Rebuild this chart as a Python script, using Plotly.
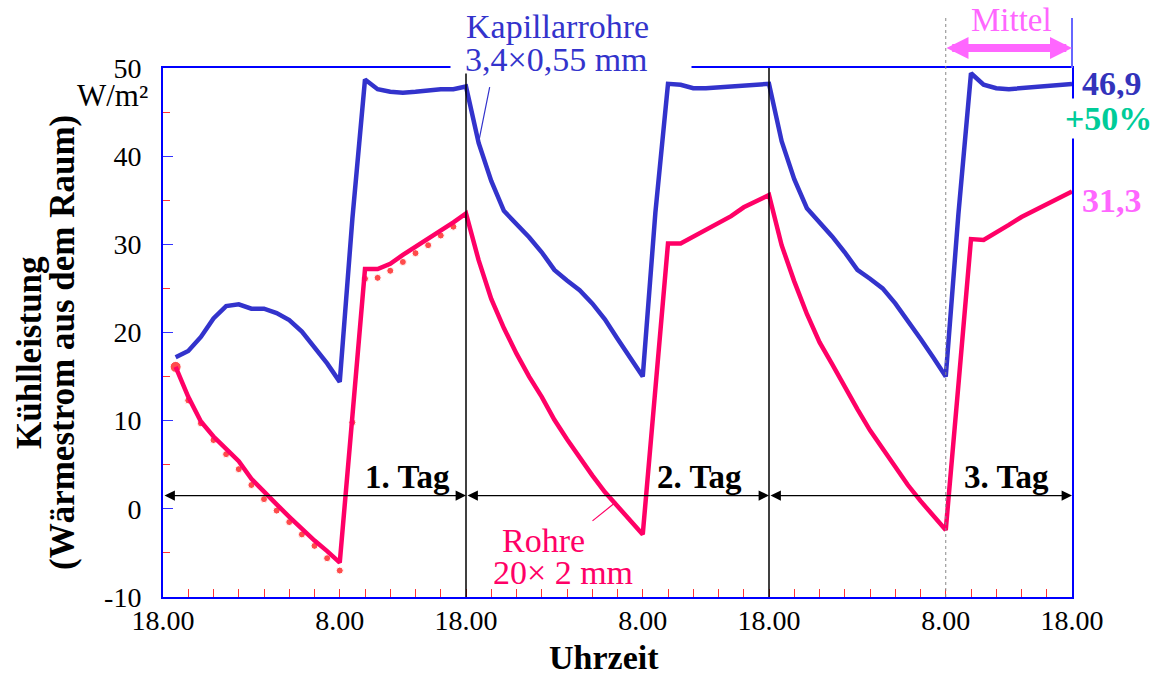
import plotly.graph_objects as go

# ---------------- data ----------------
hours = list(range(1, 73))  # 19:00 on day 1 ... 18:00 on day 3 (hours after 18:00)

kapillar = [17.2, 17.9, 19.5, 21.6, 23.0, 23.2, 22.7, 22.7, 22.2, 21.4, 20.1, 18.3,
            16.5, 14.4, 32.9, 48.7, 47.6, 47.3, 47.2, 47.3, 47.5, 47.6, 47.6, 47.9,
            41.5, 37.2, 33.8, 32.3, 30.8, 29.1, 27.1, 25.9, 24.8, 23.3, 21.5, 19.3,
            17.2, 15.0, 33.6, 48.2, 48.1, 47.7, 47.7, 47.8, 47.8, 47.9, 48.1, 48.2,
            41.7, 37.4, 34.1, 32.5, 30.9, 29.1, 27.1, 26.1, 25.0, 23.3, 21.4, 19.3,
            17.2, 15.0, 33.4, 49.4, 48.1, 47.7, 47.6, 47.7, 47.8, 47.9, 48.1, 48.2]

rohre = [16.1, 12.7, 9.9, 8.2, 6.8, 5.4, 3.4, 1.9, 0.5, -0.9, -2.3, -3.6,
         -4.8, -6.1, 10.5, 27.2, 27.2, 27.8, 28.8, 29.7, 30.7, 31.6, 32.5, 33.5,
         28.2, 23.8, 20.5, 17.6, 15.0, 12.7, 10.1, 7.9, 5.8, 3.8, 1.9, 0.3,
         -1.3, -2.9, 13.6, 30.1, 30.1, 30.9, 31.7, 32.5, 33.2, 34.2, 34.9, 35.6,
         29.9, 25.8, 22.1, 18.9, 16.4, 13.8, 11.3, 8.9, 6.8, 4.6, 2.7, 0.9,
         -0.8, -2.4, 14.0, 30.6, 30.5, 31.3, 32.2, 33.1, 33.8, 34.5, 35.3, 36.0]

hours_dots = list(range(1, 24))
rohre_dots = [16.1, 12.3, 9.7, 7.8, 6.2, 4.5, 2.7, 1.1, -0.2, -1.5, -2.9, -4.2,
              -5.6, -7.0, 9.8, 26.1, 26.2, 27.0, 28.0, 29.0, 29.9, 31.0, 32.0]

x_tickvals = [0, 14, 24, 38, 48, 62, 72]
x_ticktext = ["18.00", "8.00", "18.00", "8.00", "18.00", "8.00", "18.00"]
y_tickvals = [-10, 0, 10, 20, 30, 40, 50]
y_ticktext = ["-10", "0", "10", "20", "30", "40", "50"]

day_labels = ["1. Tag", "2. Tag", "3. Tag"]
day_starts = [0, 24, 48]
mean_kapillar = "46,9"
mean_rohre = "31,3"
increase = "+50%"

# ---------------- figure ----------------
FONT = "Liberation Serif, Times New Roman, DejaVu Serif, serif"
BLUE_LINE = "#3333cc"
PINK_LINE = "#ff0066"
AXIS_BLUE = "#0000ff"

L, R, T, B = 163, 1072, 68, 597


def px(x):
    return (x - L) / (R - L)


def py(y):
    return (B - y) / (B - T)


fig = go.Figure()

fig.add_trace(go.Scatter(
    x=hours_dots, y=rohre_dots, mode="markers",
    marker=dict(color="#ff0000", size=[11] + [7] * (len(rohre_dots) - 1)),
    showlegend=False, hoverinfo="skip"))

fig.add_trace(go.Scatter(
    x=hours, y=rohre, mode="lines",
    line=dict(color=PINK_LINE, width=4.5),
    showlegend=False))

fig.add_trace(go.Scatter(
    x=hours, y=kapillar, mode="lines",
    line=dict(color=BLUE_LINE, width=4.5),
    showlegend=False))

shapes = []
for d in day_starts[1:]:
    shapes.append(dict(type="line", xref="x", yref="paper", x0=d, x1=d, y0=0, y1=1,
                       line=dict(color="black", width=1.5)))
shapes.append(dict(type="line", xref="x", yref="paper", x0=62, x1=62, y0=0, y1=py(15),
                   line=dict(color="#888888", width=1, dash="dot")))
shapes.append(dict(type="line", xref="paper", yref="paper", x0=1, x1=1, y0=1, y1=py(18),
                   line=dict(color="#6666ff", width=2)))

ann = []
# white gap in the top frame behind the label
ann.append(dict(xref="paper", yref="paper", x=px(571), y=py(68), text=" ", showarrow=False,
                width=238, height=8, bgcolor="white", xanchor="center", yanchor="middle"))


def txt(s, x, y, size=33, color="black", bold=False, **kw):
    if bold:
        s = "<b>" + s + "</b>"
    d = dict(xref="paper", yref="paper", x=px(x), y=py(y), text=s, showarrow=False,
             font=dict(family=FONT, size=size, color=color),
             xanchor="center", yanchor="middle")
    d.update(kw)
    ann.append(d)


txt("Kapillarrohre", 557, 27, size=34, color=BLUE_LINE)
txt("3,4×0,55 mm", 556, 59, size=34, color=BLUE_LINE)
txt("Rohre", 543, 540, size=34, color=PINK_LINE)
txt("20× 2 mm", 563, 572, size=34, color=PINK_LINE)
txt("Mittel", 1011, 20, size=33, color="#ff66ff")
txt(mean_kapillar, 1112, 84, size=34, color="#3333bb", bold=True)
txt(increase, 1108, 118, size=34, color="#00cc99", bold=True, bgcolor="white")
txt(mean_rohre, 1112, 200, size=34, color="#ff66ff", bold=True)
txt("W/m²", 150, 95, size=31, xanchor="right")
txt("Kühlleistung", 29, 353, size=35, bold=True, textangle=-90)
txt("(Wärmestrom aus dem Raum)", 62, 343, size=35, bold=True, textangle=-90)
txt("Uhrzeit", 604, 657, size=34, bold=True)

for lab, cx in zip(day_labels, [407, 699, 1006]):
    txt(lab, cx, 477, size=33, bold=True)

for d in day_starts:
    ann.append(dict(xref="x", yref="y", axref="x", ayref="y", x=d + 24, y=1.5, ax=d, ay=1.5,
                    text="", showarrow=True, arrowside="end+start", arrowhead=2, startarrowhead=2,
                    arrowsize=1.6, startarrowsize=1.6, arrowwidth=1.3, arrowcolor="black",
                    standoff=0, startstandoff=0))

# Mittel arrow (above the plot area, so in paper/pixel units)
ann.append(dict(xref="paper", yref="paper", x=px(1072), y=py(48), ax=-(1072 - 945), ay=0,
                text="", showarrow=True, arrowside="end+start", arrowhead=2, startarrowhead=2,
                arrowsize=0.55, startarrowsize=0.55, arrowwidth=8, arrowcolor="#ff66ff",
                standoff=0, startstandoff=0))

# leader lines
ann.append(dict(xref="x", yref="y", axref="x", ayref="y", x=25.0, y=41.6, ax=25.9, ay=48.0,
                text="", showarrow=True, arrowhead=0, arrowwidth=1.2, arrowcolor=BLUE_LINE))
ann.append(dict(xref="x", yref="y", axref="x", ayref="y", x=35.9, y=0.8, ax=33.9, ay=-1.5,
                text="", showarrow=True, arrowhead=0, arrowwidth=1.2, arrowcolor=PINK_LINE))

fig.update_layout(
    width=1157, height=675,
    margin=dict(l=L, r=1157 - R, t=T, b=675 - B),
    paper_bgcolor="white", plot_bgcolor="white",
    font=dict(family=FONT, color="black"),
    shapes=shapes, annotations=ann, showlegend=False,
    xaxis=dict(range=[0, 72], showline=True, linecolor=AXIS_BLUE, linewidth=2, mirror=True,
               showgrid=False, zeroline=False, tickmode="array", tickvals=x_tickvals,
               ticktext=x_ticktext, ticks="inside", ticklen=8, tickcolor="#ff3333", tickwidth=1,
               minor=dict(tickmode="linear", tick0=0, dtick=2, ticks="inside", ticklen=8,
                          tickcolor="#ff3333", tickwidth=1),
               tickfont=dict(family=FONT, size=28, color="black"), ticklabelstandoff=-3),
    yaxis=dict(range=[-10, 50], showline=True, linecolor=AXIS_BLUE, linewidth=2, mirror=True,
               showgrid=False, zeroline=False, tickmode="array", tickvals=y_tickvals,
               ticktext=y_ticktext, ticks="inside", ticklen=10, tickcolor="#3333ff", tickwidth=1,
               minor=dict(tickmode="linear", tick0=0, dtick=5, ticks="inside", ticklen=7,
                          tickcolor="#ff3333", tickwidth=1),
               tickfont=dict(family=FONT, size=28, color="black"), ticklabelstandoff=14),
)

fig.write_html("out.html", post_script="document.body.style.margin='0';",
               config={"displayModeBar": False})
